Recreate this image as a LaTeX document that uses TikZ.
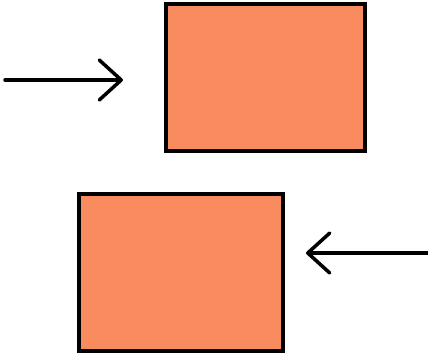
\documentclass[tikz,border=0pt]{standalone}
\usetikzlibrary{arrows.meta}
\definecolor{boxfill}{RGB}{249,140,94}
\tikzset{
  block/.style={draw=black, fill=boxfill, line width=4pt, inner sep=0pt},
  pusharrow/.style={line width=3.5pt, line cap=round, -{Straight Barb[length=22pt, width=40pt, line width=3.5pt, round]}}
}
\begin{document}
\begin{tikzpicture}[x=1pt, y=-1pt]
\useasboundingbox (0,0) rectangle (428,361);
\node[block, minimum width=199pt, minimum height=147pt] (top) at (265.5,77.5) {};
\node[block, minimum width=204pt, minimum height=157pt] (bottom) at (181,272.5) {};
\coordinate (a1) at (5,80);
\coordinate (a2) at (123,80);
\coordinate (b1) at (428,253);
\coordinate (b2) at (306,253);
\draw[pusharrow] (a1) -- (a2);
\draw[pusharrow] (b1) -- (b2);
\end{tikzpicture}
\end{document}
